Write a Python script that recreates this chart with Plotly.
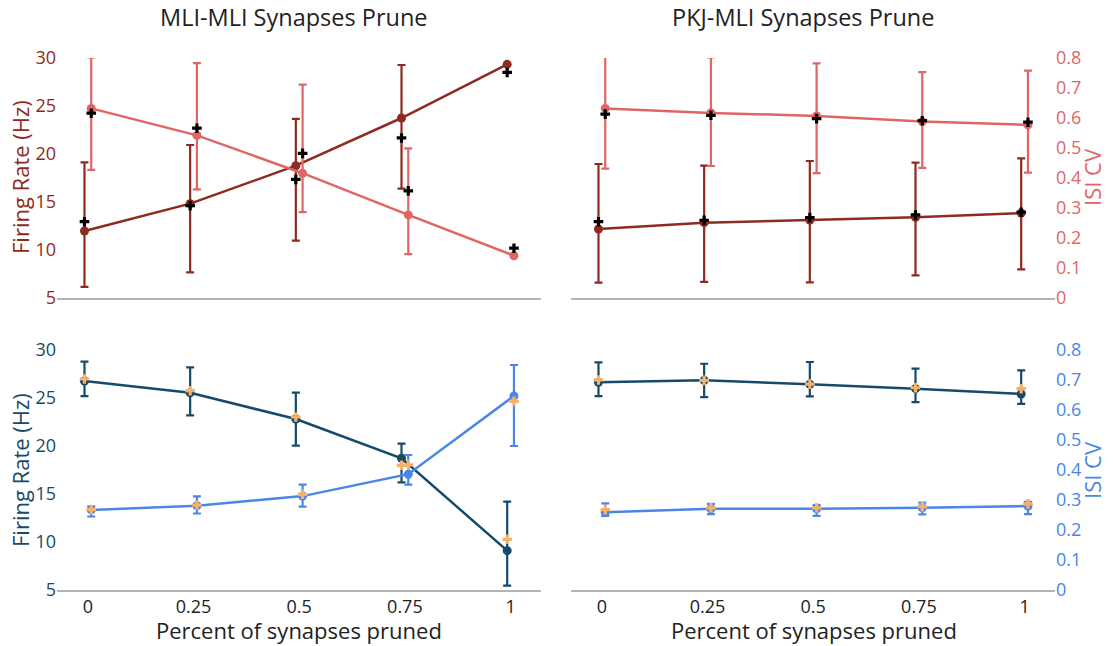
import plotly.graph_objects as go
from plotly.subplots import make_subplots

# ---------------- data ----------------
pct = [0, 0.25, 0.5, 0.75, 1]
pct_labels = ["0", "0.25", "0.5", "0.75", "1"]
panel_titles = ["MLI-MLI Synapses Prune", "PKJ-MLI Synapses Prune"]
x_title = "Percent of synapses pruned"
fr_title = "Firing Rate (Hz)"
isi_title = "ISI CV"

# Top row: MLI-MLI (left), PKJ-MLI (right)
top_fr_mli = [11.98, 14.83, 18.78, 23.75, 29.34]
top_fr_mli_hi = [19.13, 20.94, 23.65, 29.27, None]
top_fr_mli_lo = [6.15, 7.67, 10.97, 16.39, None]
top_fr_mli_cross = [12.95, 14.62, 17.36, 21.67, 28.5]
top_isi_mli = [0.632, 0.542, 0.416, 0.277, 0.141]
top_isi_mli_hi = [0.802, 0.783, 0.711, 0.499, None]
top_isi_mli_lo = [0.427, 0.362, 0.286, 0.146, None]
top_isi_mli_cross = [0.616, 0.566, 0.482, 0.357, 0.166]

top_fr_pkj = [12.19, 12.85, 13.12, 13.40, 13.85]
top_fr_pkj_hi = [18.96, 18.78, 19.27, 19.10, 19.55]
top_fr_pkj_lo = [6.60, 6.67, 6.63, 7.36, 7.98]
top_fr_pkj_cross = [12.95, 13.10, 13.37, 13.65, 13.93]
top_isi_pkj = [0.632, 0.617, 0.607, 0.588, 0.577]
top_isi_pkj_hi = [0.807, 0.802, 0.782, 0.753, 0.758]
top_isi_pkj_lo = [0.431, 0.440, 0.416, 0.434, 0.418]
top_isi_pkj_cross = [0.613, 0.609, 0.598, 0.591, 0.586]

# Bottom row
bot_fr_mli = [26.77, 25.55, 22.81, 18.72, 9.10]
bot_fr_mli_hi = [28.78, 28.20, 25.55, 20.24, 14.20]
bot_fr_mli_lo = [25.20, 23.20, 20.03, 16.22, 5.45]
bot_fr_mli_cross = [26.98, 25.76, 23.02, 17.99, 10.28]
bot_isi_mli = [0.267, 0.281, 0.313, 0.386, 0.647]
bot_isi_mli_hi = [0.279, 0.312, 0.351, 0.450, 0.750]
bot_isi_mli_lo = [0.245, 0.255, 0.278, 0.351, 0.480]
bot_isi_mli_cross = [0.268, 0.283, 0.319, 0.417, 0.629]

bot_fr_pkj = [26.64, 26.84, 26.43, 25.97, 25.42]
bot_fr_pkj_hi = [28.72, 28.57, 28.75, 28.05, 27.88]
bot_fr_pkj_lo = [25.20, 25.10, 25.17, 24.58, 24.38]
bot_fr_pkj_cross = [26.88, 26.84, 26.45, 26.07, 25.97]
bot_isi_pkj = [0.259, 0.271, 0.271, 0.274, 0.280]
bot_isi_pkj_hi = [0.289, 0.287, 0.283, 0.291, 0.294]
bot_isi_pkj_lo = [0.247, 0.253, 0.247, 0.252, 0.253]
bot_isi_pkj_cross = [0.268, 0.274, 0.274, 0.278, 0.287]

fr_jitter = -0.008
isi_jitter = 0.008

# ---------------- styles ----------------
RED_DARK = "#8E2A20"
RED_LIGHT = "#E06666"
NAVY = "#164A6B"
BLUE = "#4A86E8"
ORANGE = "#F6B26B"
FONT = "Open Sans"
TEXT = "#222222"

W, H = 1113, 646
OFF = 8  # page body margin offset
# plot area in screen pixels
SX0, SX1, SY0, SY1 = 57, 1055, 58, 590
ML = SX0 - OFF
MT = SY0 - OFF
MR = W - (SX1 - OFF)
MB = H - (SY1 - OFF)
PW, PH = SX1 - SX0, SY1 - SY0


def px_to_paper(px, py):
    return (px - SX0) / PW, (SY1 - py) / PH


def err(mean, hi, lo):
    plus = [(h - m) if h is not None else 0 for m, h in zip(mean, hi)]
    minus = [(m - l) if l is not None else 0 for m, l in zip(mean, lo)]
    return plus, minus


fig = make_subplots(rows=2, cols=2,
                    specs=[[{"secondary_y": True}, {"secondary_y": True}],
                           [{"secondary_y": True}, {"secondary_y": True}]])

xdom = {1: [0, (541 - SX0) / PW], 2: [(571 - SX0) / PW, 1]}
ydom = {1: [(SY1 - 298) / PH, 1], 2: [0, (SY1 - 350) / PH]}


def add_series(row, col, mean, hi, lo, jitter, color, secondary):
    xs = [p + jitter for p in pct]
    plus, minus = err(mean, hi, lo)
    fig.add_trace(go.Scatter(
        x=xs, y=mean, mode="lines+markers", cliponaxis=False,
        line=dict(color=color, width=2.5),
        marker=dict(color=color, size=9),
        error_y=dict(type="data", symmetric=False, array=plus, arrayminus=minus,
                     color=color, thickness=2.2, width=4),
        showlegend=False), row=row, col=col, secondary_y=secondary)
    return xs


def add_cross(row, col, xs, cross, cross_color, secondary):
    fig.add_trace(go.Scatter(
        x=xs, y=cross, mode="markers", cliponaxis=False,
        marker=dict(symbol="cross", color=cross_color, size=8),
        showlegend=False), row=row, col=col, secondary_y=secondary)


panels = [
    (1, 1, top_fr_mli, top_fr_mli_hi, top_fr_mli_lo, top_fr_mli_cross,
     top_isi_mli, top_isi_mli_hi, top_isi_mli_lo, top_isi_mli_cross, RED_DARK, RED_LIGHT, "black"),
    (1, 2, top_fr_pkj, top_fr_pkj_hi, top_fr_pkj_lo, top_fr_pkj_cross,
     top_isi_pkj, top_isi_pkj_hi, top_isi_pkj_lo, top_isi_pkj_cross, RED_DARK, RED_LIGHT, "black"),
    (2, 1, bot_fr_mli, bot_fr_mli_hi, bot_fr_mli_lo, bot_fr_mli_cross,
     bot_isi_mli, bot_isi_mli_hi, bot_isi_mli_lo, bot_isi_mli_cross, NAVY, BLUE, ORANGE),
    (2, 2, bot_fr_pkj, bot_fr_pkj_hi, bot_fr_pkj_lo, bot_fr_pkj_cross,
     bot_isi_pkj, bot_isi_pkj_hi, bot_isi_pkj_lo, bot_isi_pkj_cross, NAVY, BLUE, ORANGE),
]

for (r, c, fr, frh, frl, frc, isi, isih, isil, isic, c1, c2, cc) in panels:
    xs_fr = add_series(r, c, fr, frh, frl, fr_jitter, c1, False)
    xs_isi = add_series(r, c, isi, isih, isil, isi_jitter, c2, True)
    add_cross(r, c, xs_fr, frc, cc, False)
    add_cross(r, c, xs_isi, isic, cc, True)

# ---------------- axes ----------------
for r in (1, 2):
    for c in (1, 2):
        fig.update_xaxes(row=r, col=c, domain=xdom[c], range=[-0.073, 1.072],
                         showgrid=False, zeroline=False,
                         showline=True, linecolor="#b4b4b4", linewidth=1.5, automargin=False,
                         tickvals=pct, ticktext=pct_labels, ticks="",
                         showticklabels=(r == 2),
                         tickfont=dict(family=FONT, size=18, color=TEXT))
        frcol = RED_DARK if r == 1 else NAVY
        isicol = RED_LIGHT if r == 1 else BLUE
        fig.update_yaxes(row=r, col=c, secondary_y=False, domain=ydom[r], range=[5, 30], dtick=5,
                         showgrid=False, zeroline=False, showline=False, automargin=False,
                         showticklabels=(c == 1), ticks="",
                         tickfont=dict(family=FONT, size=18, color=frcol))
        fig.update_yaxes(row=r, col=c, secondary_y=True, domain=ydom[r], range=[0, 0.8], dtick=0.1,
                         showgrid=False, zeroline=False, showline=False, automargin=False,
                         showticklabels=(c == 2), ticks="",
                         tickfont=dict(family=FONT, size=18, color=isicol))

# ---------------- titles (annotations) ----------------
title_px = [(294, 17), (803, 17)]
for t, (px, py) in zip(panel_titles, title_px):
    ax, ay = px_to_paper(px, py)
    fig.add_annotation(text=t, xref="paper", yref="paper", x=ax, y=ay,
                       xanchor="center", yanchor="middle", showarrow=False,
                       font=dict(family=FONT, size=23.5, color=TEXT))

for px in (299, 814):
    ax, ay = px_to_paper(px, 630)
    fig.add_annotation(text=x_title, xref="paper", yref="paper", x=ax, y=ay,
                       xanchor="center", yanchor="middle", showarrow=False,
                       font=dict(family=FONT, size=22, color=TEXT))

for py, frcol, isicol in ((177, RED_DARK, RED_LIGHT), (470, NAVY, BLUE)):
    ax, ay = px_to_paper(20, py)
    fig.add_annotation(text=fr_title, xref="paper", yref="paper", x=ax, y=ay, textangle=-90,
                       xanchor="center", yanchor="middle", showarrow=False,
                       font=dict(family=FONT, size=22, color=frcol))
    ax, ay = px_to_paper(1092, py)
    fig.add_annotation(text=isi_title, xref="paper", yref="paper", x=ax, y=ay, textangle=-90,
                       xanchor="center", yanchor="middle", showarrow=False,
                       font=dict(family=FONT, size=22, color=isicol))

fig.update_layout(width=W, height=H, plot_bgcolor="white", paper_bgcolor="white",
                  margin=dict(l=ML, r=MR, t=MT, b=MB, autoexpand=False), showlegend=False,
                  font=dict(family=FONT))

fig.write_html("out.html")
